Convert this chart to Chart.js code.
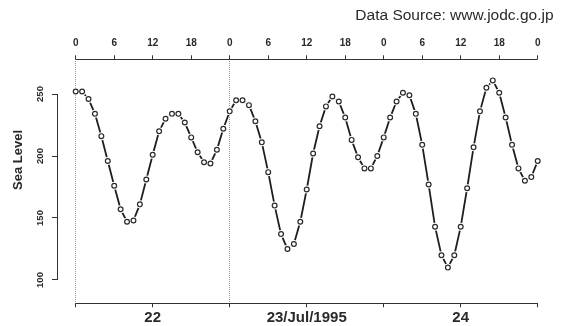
<!DOCTYPE html>
<html>
<head>
<meta charset="utf-8">
<script src="https://cdn.jsdelivr.net/npm/chart.js@4.4.1/dist/chart.umd.min.js"></script>
<style>
  html, body { margin: 0; padding: 0; background: #fff; }
</style>
</head>
<body>
<canvas id="tideChart" width="564" height="326"></canvas>
<script>
// hourly sea level, 22-24 Jul 1995 (plus 0h of the 25th)
const seaLevel22 = [252, 252, 246, 234, 216, 196, 176, 157, 147, 148, 161, 181, 201, 220, 230, 234, 234, 227, 215, 203, 195, 194, 205, 222];
const seaLevel23 = [236, 245, 245, 241, 228, 211, 187, 160, 137, 125, 129, 147, 173, 202, 224, 240, 248, 244, 231, 213, 199, 190, 190, 200];
const seaLevel24 = [215, 231, 244, 251, 249, 234, 209, 177, 143, 120, 110, 120, 143, 174, 207, 236, 255, 261, 251, 231, 209, 190, 180, 183];
const seaLevel25 = [196];

const topTickHours = [0, 6, 12, 18, 24, 30, 36, 42, 48, 54, 60, 66, 72];
const topTickLabels = ["0", "6", "12", "18", "0", "6", "12", "18", "0", "6", "12", "18", "0"];
const dayTickHours = [0, 12, 24, 36, 48, 60, 72];
const dayTickLabels = ["", "22", "", "23/Jul/1995", "", "24", ""];
const yTickValues = [100, 150, 200, 250];
const dayLineHours = [0, 24];

const seaLevel = seaLevel22.concat(seaLevel23, seaLevel24, seaLevel25);
const hourIndex = seaLevel.map((_, i) => i);

const FONT = "'Liberation Sans', Arial, sans-serif";
const INK = "#2a2a2a";

const rAxesPlugin = {
	id: "rAxes",
	afterDraw(chart) {
		const { ctx, chartArea, scales } = chart;
		const x = scales.x, y = scales.y;
		ctx.save();
		ctx.strokeStyle = "#333";
		ctx.lineWidth = 1;
		const x0 = x.getPixelForValue(0), x1 = x.getPixelForValue(72);
		ctx.beginPath();
		ctx.moveTo(x0, Math.round(chartArea.top) + 0.5);
		ctx.lineTo(x1, Math.round(chartArea.top) + 0.5);
		ctx.moveTo(x0, Math.round(chartArea.bottom) + 0.5);
		ctx.lineTo(x1, Math.round(chartArea.bottom) + 0.5);
		const lx = Math.round(chartArea.left) + 0.5;
		ctx.moveTo(lx, y.getPixelForValue(250));
		ctx.lineTo(lx, y.getPixelForValue(100));
		ctx.stroke();

		ctx.fillStyle = INK;
		ctx.font = "15.5px " + FONT;
		ctx.textAlign = "right";
		ctx.textBaseline = "alphabetic";
		ctx.fillText("Data Source: www.jodc.go.jp", 553.5, 19.5);

		ctx.translate(18.5, 160);
		ctx.rotate(-Math.PI / 2);
		ctx.font = "bold 13px " + FONT;
		ctx.textAlign = "center";
		ctx.textBaseline = "middle";
		ctx.fillText("Sea Level", 0, 0);
		ctx.restore();
	},
};

const xMin = -2.914, xMax = 74.88;

const tideConfig = {
	type: "line",
	data: {
		labels: hourIndex,
		datasets: [
			{
				label: "markers",
				data: seaLevel,
				showLine: false,
				pointRadius: 2.4,
				pointBorderWidth: 1.2,
				pointBorderColor: "#2a2a2a",
				pointBackgroundColor: "#fff",
				order: 1,
			},
			{
				label: "gap",
				data: seaLevel,
				showLine: false,
				pointRadius: 4,
				pointBorderWidth: 0,
				pointBackgroundColor: "#fff",
				order: 2,
			},
			{
				label: "Sea Level",
				data: seaLevel,
				borderColor: "#1e1e1e",
				borderWidth: 1.8,
				pointRadius: 0,
				tension: 0,
				order: 3,
			},
		],
	},
	options: {
		responsive: false,
		animation: false,
		layout: { padding: { left: 0, right: 7.8, top: 0, bottom: 0 } },
		plugins: { legend: { display: false }, tooltip: { enabled: false } },
		scales: {
			x: {
				type: "linear",
				position: "bottom",
				min: xMin,
				max: xMax,
				afterBuildTicks: (s) => { s.ticks = dayTickHours.map((v) => ({ value: v })); },
				afterFit: (s) => { s.height = 22.7; },
				ticks: {
					autoSkip: false,
					minRotation: 0,
					maxRotation: 0,
					padding: 2,
					color: INK,
					font: { family: FONT, size: 15, weight: "bold" },
					callback: (v, i) => dayTickLabels[i],
				},
				grid: { drawOnChartArea: false, drawTicks: true, tickLength: 4, tickColor: "#333", tickWidth: 1 },
				border: { display: false },
			},
			x2: {
				type: "linear",
				axis: "x",
				position: "top",
				min: xMin,
				max: xMax,
				afterBuildTicks: (s) => { s.ticks = topTickHours.map((v) => ({ value: v })); },
				afterFit: (s) => { s.height = 59.3; },
				ticks: {
					autoSkip: false,
					minRotation: 0,
					maxRotation: 0,
					padding: 6.5,
					color: INK,
					font: { family: FONT, size: 10, weight: "bold" },
					callback: (v, i) => topTickLabels[i],
				},
				grid: {
					drawOnChartArea: true,
					drawTicks: true,
					tickLength: 4,
					tickColor: "#333",
					tickWidth: 1,
					lineWidth: 1,
					color: (c) => (c.tick && dayLineHours.includes(c.tick.value)) ? "#9a9a9a" : "rgba(0,0,0,0)",
				},
				border: { display: false, dash: [1, 1] },
			},
			y: {
				type: "linear",
				min: 81.2,
				max: 278,
				afterBuildTicks: (s) => { s.ticks = yTickValues.map((v) => ({ value: v })); },
				afterFit: (s) => { s.width = 57; },
				ticks: {
					minRotation: 90,
					maxRotation: 90,
					crossAlign: "center",
					padding: 3.5,
					color: INK,
					font: { family: FONT, size: 9.5, weight: "bold" },
					callback: (v) => String(v),
				},
				grid: { drawOnChartArea: false, drawTicks: true, tickLength: 5, tickColor: "#333", tickWidth: 1 },
				border: { display: false },
			},
		},
	},
	plugins: [rAxesPlugin],
};

const tideChart = new Chart(document.getElementById("tideChart"), tideConfig);
</script>
</body>
</html>
